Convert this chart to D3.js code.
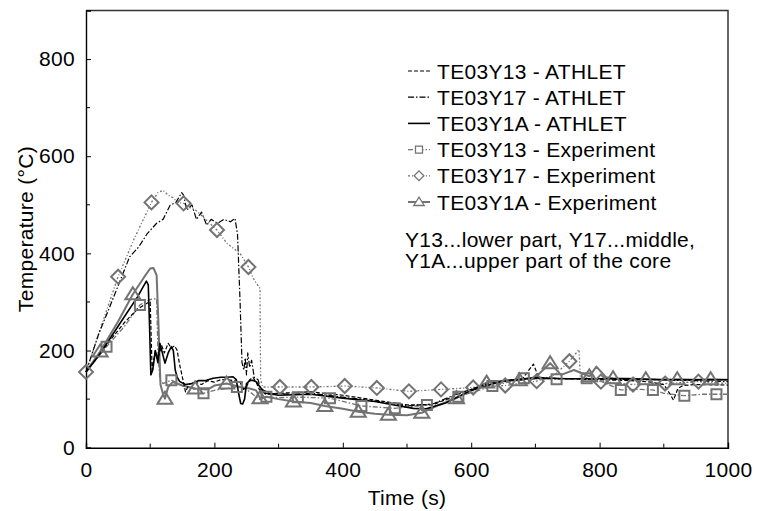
<!DOCTYPE html>
<html>
<head>
<meta charset="utf-8">
<script src="https://cdn.jsdelivr.net/npm/d3@7"></script>
<style>
  html, body { margin: 0; padding: 0; background: #fff; }
  svg text { font-family: "Liberation Sans", Arial, Helvetica, sans-serif; fill: #000; }
</style>
</head>
<body>
<svg id="chart" width="760" height="511"></svg>
<script>
// ---- Data ----
const xTicks = [0, 200, 400, 600, 800, 1000];
const xMinorTicks = [100, 300, 500, 700, 900];
const yTicks = [0, 200, 400, 600, 800];
const yMinorTicks = [100, 300, 500, 700];

const seriesNames = [
  "TE03Y13 - ATHLET", "TE03Y17 - ATHLET", "TE03Y1A - ATHLET",
  "TE03Y13 - Experiment", "TE03Y17 - Experiment", "TE03Y1A - Experiment"
];
const noteLines = ["Y13...lower part, Y17...middle,", "Y1A...upper part of the core"];

// TE03Y13 - ATHLET
const y13AthT = [0,20,40,60,80,98,100,103,108,112,118,122,128,133,138,142,146,150,155,160,170,180,190,200,210,220,230,240,245,250,255,260,265,270,280,300,350,400,450,500,540,580,620,650,680,690,697,705,720,750,800,850,880,900,910,915,922,930,950,1000];
const y13AthV = [156,190,225,258,285,300,300,160,200,185,210,195,215,205,210,200,170,146,115,130,135,130,138,135,140,140,138,135,120,125,140,145,135,120,110,112,115,108,98,88,88,110,130,137,142,160,172,145,143,142,140,138,135,130,110,98,122,128,130,129];

// TE03Y17 - ATHLET
const y17AthT = [0,20,37,55,68,82,95,110,120,131,140,149,152,157,165,172,180,188,195,205,215,225,232,236,240,243,246,248,250,252,255,258,262,268,272,290,320,350,400,450,500,540,580,620,660,700,750,800,850,900,950,1000];
const y17AthV = [156,235,290,350,393,413,440,462,470,499,505,525,520,489,500,470,485,458,470,462,470,465,472,440,300,175,160,185,150,195,165,180,145,140,120,112,110,112,104,96,86,90,112,128,138,142,142,142,140,140,138,136];

// TE03Y1A - ATHLET
const y1aAthT = [0,20,40,60,80,94,97,99,101,104,108,112,115,118,123,128,133,136,139,142,146,155,165,175,185,198,210,220,229,234,238,241,244,247,250,255,260,266,271,280,300,350,400,450,480,510,530,560,600,650,700,750,800,850,900,950,1000];
const y1aAthV = [156,190,230,270,310,343,335,250,150,160,200,175,215,200,174,195,208,200,160,145,136,130,132,138,138,143,145,145,146,140,110,91,90,100,132,138,139,135,125,112,108,110,102,95,88,81,80,92,118,138,144,142,142,142,140,140,140];

// TE03Y13 - Experiment
const y13ExpT = [0,32,60,84,100,110,112,115,120,133,150,170,183,200,220,235,250,260,271,281,300,330,380,429,481,531,580,633,682,733,780,800,833,860,883,900,932,960,982,1000];
const y13ExpV = [156,208,250,294,305,307,200,140,132,139,128,120,112,118,122,125,120,110,99,105,103,104,102,86,81,88,105,127,143,141,143,138,119,120,119,112,107,110,110,110];
const y13MarkT = [32,84,133,183,235,281,330,380,429,481,531,580,633,682,733,780,833,883,932,982];
const y13MarkV = [208,294,139,112,125,105,104,102,86,81,88,105,127,143,141,143,119,119,107,110];

// TE03Y17 - Experiment
const y17ExpT = [0,25,50,75,102,112,120,128,135,143,152,160,170,180,190,204,220,240,253,262,271,272,275,290,302,351,403,453,503,553,603,653,702,730,753,768,770,790,802,852,902,954,1000];
const y17ExpV = [156,255,352,430,505,525,530,520,515,505,503,495,490,478,465,448,420,400,372,345,328,140,125,125,125,125,127,123,116,120,124,128,137,150,178,202,146,140,136,130,132,136,132];
const y17MarkT = [0,50,102,152,204,253,302,351,403,453,503,553,603,653,702,753,802,852,902,954];
const y17MarkV = [156,352,505,503,448,372,125,125,127,123,116,120,124,128,137,178,136,130,132,136];

// TE03Y1A - Experiment
const y1aExpT = [0,22,50,73,90,100,105,110,113,116,120,123,128,135,150,170,190,200,219,240,255,265,271,281,300,323,350,372,400,424,450,471,500,523,550,577,600,624,650,675,700,723,740,760,784,795,810,821,850,872,900,921,950,973,1000];
const y1aExpV = [156,198,260,316,350,369,370,355,250,130,110,101,125,135,128,122,120,128,132,125,122,118,102,105,100,95,92,86,80,74,70,68,67,72,88,102,118,134,138,139,145,174,150,160,147,167,145,143,142,141,140,141,140,141,140];
const y1aMarkT = [22,73,123,170,219,271,323,372,424,471,523,577,624,675,723,784,821,872,921,973];
const y1aMarkV = [198,316,101,122,132,102,95,86,74,68,72,102,134,139,174,147,143,141,141,141];

// ---- Layout ----
const svg = d3.select("#chart");
const L = 86, R = 728, T = 10.5, B = 447.7;
const x = d3.scaleLinear().domain([0, 1000]).range([L, R]);
const y = d3.scaleLinear().domain([0, 900]).range([B, T]);
const FONT = 21;
const GRAY = "#737373";

// frame (top/right)
svg.append("path")
  .attr("d", `M${L},${T}H${R}V${B}`)
  .attr("fill", "none").attr("stroke", "#333").attr("stroke-width", 1.5);

// axes with inward ticks
const xAxis = d3.axisBottom(x).tickValues(xTicks).tickSize(-5).tickPadding(14).tickFormat(d3.format("d"));
const gx = svg.append("g").attr("transform", `translate(0,${B})`).call(xAxis);
gx.selectAll("path.domain").attr("stroke", "#000").attr("stroke-width", 1.4);
gx.selectAll("line").attr("stroke", "#000").attr("stroke-width", 1);
gx.selectAll("text").attr("font-size", FONT).attr("letter-spacing", "0.3px")
  .attr("font-family", "Liberation Sans, Arial, sans-serif").attr("fill", "#000");
svg.append("g").attr("transform", `translate(0,${B})`)
  .selectAll("line").data(xMinorTicks).join("line")
  .attr("x1", d => x(d)).attr("x2", d => x(d)).attr("y1", 0).attr("y2", -4)
  .attr("stroke", "#000").attr("stroke-width", 1);

const yAxis = d3.axisLeft(y).tickValues(yTicks).tickSize(-5).tickPadding(11).tickFormat(d3.format("d"));
const gy = svg.append("g").attr("transform", `translate(${L},0)`).call(yAxis);
gy.selectAll("path.domain").attr("stroke", "#000").attr("stroke-width", 1.4);
gy.selectAll("line").attr("stroke", "#000").attr("stroke-width", 1);
gy.selectAll("text").attr("font-size", FONT).attr("letter-spacing", "0.3px")
  .attr("font-family", "Liberation Sans, Arial, sans-serif").attr("fill", "#000");
svg.append("g").attr("transform", `translate(${L},0)`)
  .selectAll("line").data(yMinorTicks).join("line")
  .attr("x1", 0).attr("x2", 4).attr("y1", d => y(d)).attr("y2", d => y(d))
  .attr("stroke", "#000").attr("stroke-width", 1);

// axis titles
svg.append("text").attr("x", (L + R) / 2).attr("y", 505).attr("text-anchor", "middle")
  .attr("font-size", FONT).attr("letter-spacing", "0.3px").text("Time (s)");
svg.append("text").attr("transform", `translate(33,${(T + B) / 2}) rotate(-90)`)
  .attr("text-anchor", "middle").attr("font-size", FONT).attr("letter-spacing", "0.3px")
  .text("Temperature (°C)");

// ---- Series ----
const line = d3.line().x(d => x(d[0])).y(d => y(d[1]));
const zip = (a, b) => a.map((t, i) => [t, b[i]]);

const styles = [
  { stroke: "#000", width: 1.2, dash: "4,2" },
  { stroke: "#000", width: 1.2, dash: "6,2,1.5,2" },
  { stroke: "#000", width: 1.6, dash: null },
  { stroke: GRAY, width: 1.3, dash: "5,2,1.5,2", marker: "square" },
  { stroke: GRAY, width: 1.3, dash: "2,2,1,2", marker: "diamond" },
  { stroke: GRAY, width: 2, dash: null, marker: "triangle" }
];

const lineData = [
  zip(y13AthT, y13AthV), zip(y17AthT, y17AthV), zip(y1aAthT, y1aAthV),
  zip(y13ExpT, y13ExpV), zip(y17ExpT, y17ExpV), zip(y1aExpT, y1aExpV)
];
const markData = [null, null, null,
  zip(y13MarkT, y13MarkV), zip(y17MarkT, y17MarkV), zip(y1aMarkT, y1aMarkV)];

function markerPath(kind) {
  if (kind === "square") return "M-5,-5H5V5H-5Z";
  if (kind === "diamond") return "M0,-7L7,0L0,7L-7,0Z";
  return "M0,-7L7.5,5H-7.5Z";
}

const drawOrder = [5, 4, 3, 1, 0, 2];
const plot = svg.append("g");
drawOrder.forEach(i => {
  const s = styles[i];
  plot.append("path").datum(lineData[i]).attr("d", line)
    .attr("fill", "none").attr("stroke", s.stroke).attr("stroke-width", s.width)
    .attr("stroke-dasharray", s.dash).attr("stroke-linejoin", "round");
});
[3, 4, 5].forEach(i => {
  const s = styles[i];
  plot.append("g").selectAll("path").data(markData[i]).join("path")
    .attr("transform", d => `translate(${x(d[0])},${y(d[1])})`)
    .attr("d", markerPath(s.marker))
    .attr("fill", "none").attr("stroke", GRAY).attr("stroke-width", 2);
});

// ---- Legend ----
const leg = svg.append("g");
seriesNames.forEach((name, i) => {
  const s = styles[i];
  const base = 78.5 + 26.2 * i;
  const cy = base - 7.5;
  leg.append("line").attr("x1", 408).attr("x2", 430).attr("y1", cy).attr("y2", cy)
    .attr("stroke", s.stroke).attr("stroke-width", s.width).attr("stroke-dasharray", s.dash);
  if (s.marker) {
    leg.append("path").attr("transform", `translate(419,${cy}) scale(0.7)`)
      .attr("d", markerPath(s.marker)).attr("fill", "#fff")
      .attr("stroke", GRAY).attr("stroke-width", 1.8);
  }
  leg.append("text").attr("x", 437).attr("y", base).attr("font-size", FONT)
    .attr("letter-spacing", "0.3px").text(name);
});
noteLines.forEach((t, i) => {
  svg.append("text").attr("x", 405).attr("y", 246.7 + 21.5 * i).attr("font-size", FONT)
    .attr("letter-spacing", "0.3px").text(t);
});
</script>
</body>
</html>
